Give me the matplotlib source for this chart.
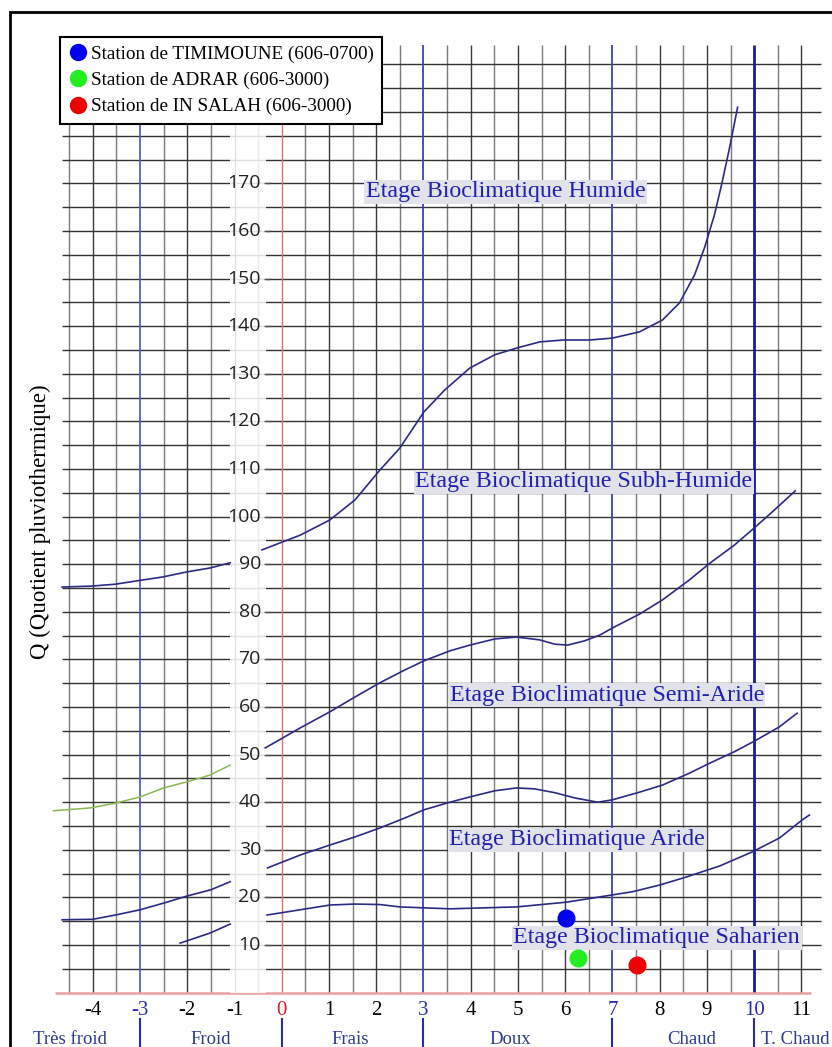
import numpy as np
import matplotlib.pyplot as plt
from matplotlib.lines import Line2D
from matplotlib.patches import Rectangle

# courbes limites des etages (x = m en degres, y = Q)
lim1_g_x = [-4.65, -4.03, -3.52, -3.0, -2.53, -2.0, -1.52, -1.09]
lim1_g_y = [85.2, 85.4, 85.8, 86.6, 87.3, 88.4, 89.2, 90.3]
lim1_d_x = [-0.42, 0.39, 1.02, 1.55, 2.08, 2.5, 3.01, 3.45, 3.98, 4.51, 4.97, 5.46, 5.95, 6.52, 7.0,
            7.57, 8.06, 8.42, 8.74, 8.95, 9.16, 9.31, 9.48, 9.65]
lim1_d_y = [93.0, 96.1, 99.3, 103.5, 109.8, 114.4, 122.0, 126.6, 131.2, 134.0, 135.4, 136.7, 137.1, 137.1, 137.5,
            138.8, 141.3, 144.9, 150.8, 156.5, 163.4, 169.7, 177.5, 186.0]

lim2_x = [-0.35, 0.39, 1.02, 1.55, 2.08, 2.61, 3.01, 3.56, 3.98, 4.51, 4.97, 5.46, 5.78, 6.05, 6.41, 6.73,
          7.0, 7.57, 8.06, 8.63, 9.06, 9.58, 10.0, 10.43, 10.87]
lim2_y = [51.4, 55.6, 59.0, 62.1, 65.1, 67.8, 69.7, 71.8, 73.0, 74.3, 74.7, 74.1, 73.2, 73.0, 73.9, 75.1,
          76.6, 79.5, 82.5, 86.7, 90.2, 94.0, 97.6, 101.4, 105.4]

lim3_g_x = [-4.65, -4.0, -3.52, -3.0, -2.5, -2.0, -1.5, -1.09]
lim3_g_y = [15.3, 15.4, 16.3, 17.4, 18.8, 20.3, 21.6, 23.3]
lim3_d_x = [-0.3, 0.39, 1.02, 1.55, 2.08, 2.61, 3.01, 3.56, 3.98, 4.51, 4.97, 5.35, 5.78, 6.2, 6.69, 7.0,
            7.57, 8.06, 8.63, 9.06, 9.58, 10.0, 10.53, 10.91]
lim3_d_y = [26.2, 28.9, 31.0, 32.7, 34.6, 36.7, 38.4, 40.0, 41.1, 42.4, 43.0, 42.8, 42.0, 40.9, 40.0, 40.5,
            42.1, 43.6, 46.1, 48.2, 50.6, 52.8, 55.8, 58.7]

lim4_g_x = [-2.15, -1.52, -1.09]
lim4_g_y = [10.4, 12.5, 14.4]
lim4_d_x = [-0.31, 0.39, 1.02, 1.55, 2.08, 2.5, 3.56, 4.97, 6.03, 6.73, 7.43, 8.0, 8.57, 9.27, 9.97,
            10.54, 11.02, 11.17]
lim4_d_y = [16.3, 17.4, 18.4, 18.6, 18.5, 18.0, 17.6, 18.0, 19.0, 20.1, 21.2, 22.6, 24.3, 26.6, 29.6,
            32.5, 36.3, 37.3]

vert_x = [-4.83, -4.05, -3.52, -3.0, -2.5, -2.0, -1.52, -1.09]
vert_y = [38.2, 38.8, 39.8, 41.1, 43.0, 44.3, 45.7, 47.8]

# stations
stations = ['Station de TIMIMOUNE (606-0700)', 'Station de ADRAR (606-3000)', 'Station de IN SALAH (606-3000)']
st_m = [6.01, 6.27, 7.51]
st_q = [15.7, 7.3, 5.8]
st_col = ['#0000ee', '#22ee22', '#ee0000']

etages = ['Etage Bioclimatique Humide', 'Etage Bioclimatique Subh-Humide', 'Etage Bioclimatique Semi-Aride',
          'Etage Bioclimatique Aride', 'Etage Bioclimatique Saharien']
etage_x = [4.74, 6.39, 6.88, 6.25, 7.94]
etage_y = [168.2, 107.3, 62.5, 32.1, 11.5]

hivers = ['Très froid', 'Froid', 'Frais', 'Doux', 'Chaud', 'T. Chaud']
hiver_x = [-4.48, -1.5, 1.45, 4.83, 8.67, 10.15]
limites_hiver = [-3, 0, 3, 7, 10]

serif = 'Liberation Serif'
bleu = '#2020b0'
navy = '#2b2b86'

fig = plt.figure(figsize=(8.32, 10.47), dpi=100)
ax = fig.add_axes([55/832, 1-992.6/1047, 770/832, 952/1047])
ax.set_xlim(-4.8, 11.5)
ax.set_ylim(0, 200)
ax.axis('off')

# cadre exterieur
fig.patches.append(Rectangle((10/832, -0.05), 1.1, 1.05-12/1047, transform=fig.transFigure,
                             fill=False, edgecolor='black', lw=2))

# quadrillage
for v in np.arange(-4.5, 11.01, 0.5):
    if v in limites_hiver:
        continue
    if v == int(v):
        ax.vlines(v, 0, 199, color='#3a3a3a', lw=1.0, zorder=1)
    else:
        ax.vlines(v, 0, 199, color='#7a7a7a', lw=1.0, zorder=1)
for q in range(5, 200, 5):
    ax.hlines(q, -4.65, 11.42, color='#333333', lw=1.0, zorder=1)

ax.vlines(-3, 0, 199, color='#5050c8', lw=1.2, zorder=1)
ax.vlines(3, 0, 199, color='#4040c0', lw=1.3, zorder=1)
ax.vlines(7, 0, 199, color='#4040c0', lw=1.3, zorder=1)
ax.vlines(10, 0, 199, color='#1a1aa0', lw=2, zorder=1)
ax.vlines(0, 0, 199, color='#e07070', lw=1, zorder=1)
ax.hlines(0, -4.8, 11.2, color='#e8a0a0', lw=1.8, zorder=1, clip_on=False)

# bande blanche des graduations
ax.axvspan(-1.1, -0.33, color='white', alpha=0.85, lw=0, zorder=2)
for q in range(10, 180, 10):
    ax.text(-0.44, q, str(q), ha='right', va='center', fontsize=14, family='Open Sans', color='#222222', zorder=4)
    ax.hlines(q, -0.37, -0.25, color='#555555', lw=1, zorder=4)

# courbes
for xs, ys in [(lim1_g_x, lim1_g_y), (lim1_d_x, lim1_d_y), (lim2_x, lim2_y), (lim3_g_x, lim3_g_y),
               (lim3_d_x, lim3_d_y), (lim4_g_x, lim4_g_y), (lim4_d_x, lim4_d_y)]:
    ax.plot(xs, ys, color=navy, lw=1.2, zorder=3, clip_on=False, solid_joinstyle='round')
ax.plot(vert_x, vert_y, color='#8cb850', lw=1.1, zorder=3, clip_on=False)

# etiquettes des etages
for s, x, y in zip(etages, etage_x, etage_y):
    ax.text(x, y, s, ha='center', va='center', color=bleu, fontsize=17.3, family=serif, zorder=4,
            bbox=dict(facecolor='#e2e2ea', edgecolor='none', pad=1))

# stations
for m, q, c in zip(st_m, st_q, st_col):
    ax.plot(m, q, 'o', color=c, markersize=12, zorder=5)

# axe des x
for v in range(-4, 12):
    c = 'black'
    if v in limites_hiver:
        c = '#2a2ab0'
    if v == 0:
        c = '#cc2020'
    ax.text(v, -3.7, str(v), ha='center', va='center', fontsize=15, family=serif, color=c)
for v in limites_hiver:
    ax.vlines(v, -5.4, -11.5, color='#2a2ab0', lw=1.5, clip_on=False)
for s, x in zip(hivers, hiver_x):
    ha = 'left' if s == 'T. Chaud' else 'center'
    ax.text(x, -9.9, s, ha=ha, va='center', fontsize=13.5, family=serif, color='#2b3a8a')

fig.text(40/832, 1-522/1047, 'Q (Quotient pluviothermique)', rotation=90, ha='center', va='center',
         fontsize=16.5, family=serif)

handles = [Line2D([], [], marker='o', ls='', color=c, markersize=11.5) for c in st_col]
leg = ax.legend(handles, stations, loc='upper left', bbox_to_anchor=(60/832, 1-37/1047),
                bbox_transform=fig.transFigure, frameon=True, fancybox=False, edgecolor='black',
                framealpha=1, prop={'family': serif, 'size': 13.8}, borderpad=0.45, labelspacing=0.45,
                handletextpad=0.15, handlelength=1.0, borderaxespad=0)
leg.get_frame().set_linewidth(1.5)
leg.set_zorder(6)

fig.savefig('out.png', dpi=100)
